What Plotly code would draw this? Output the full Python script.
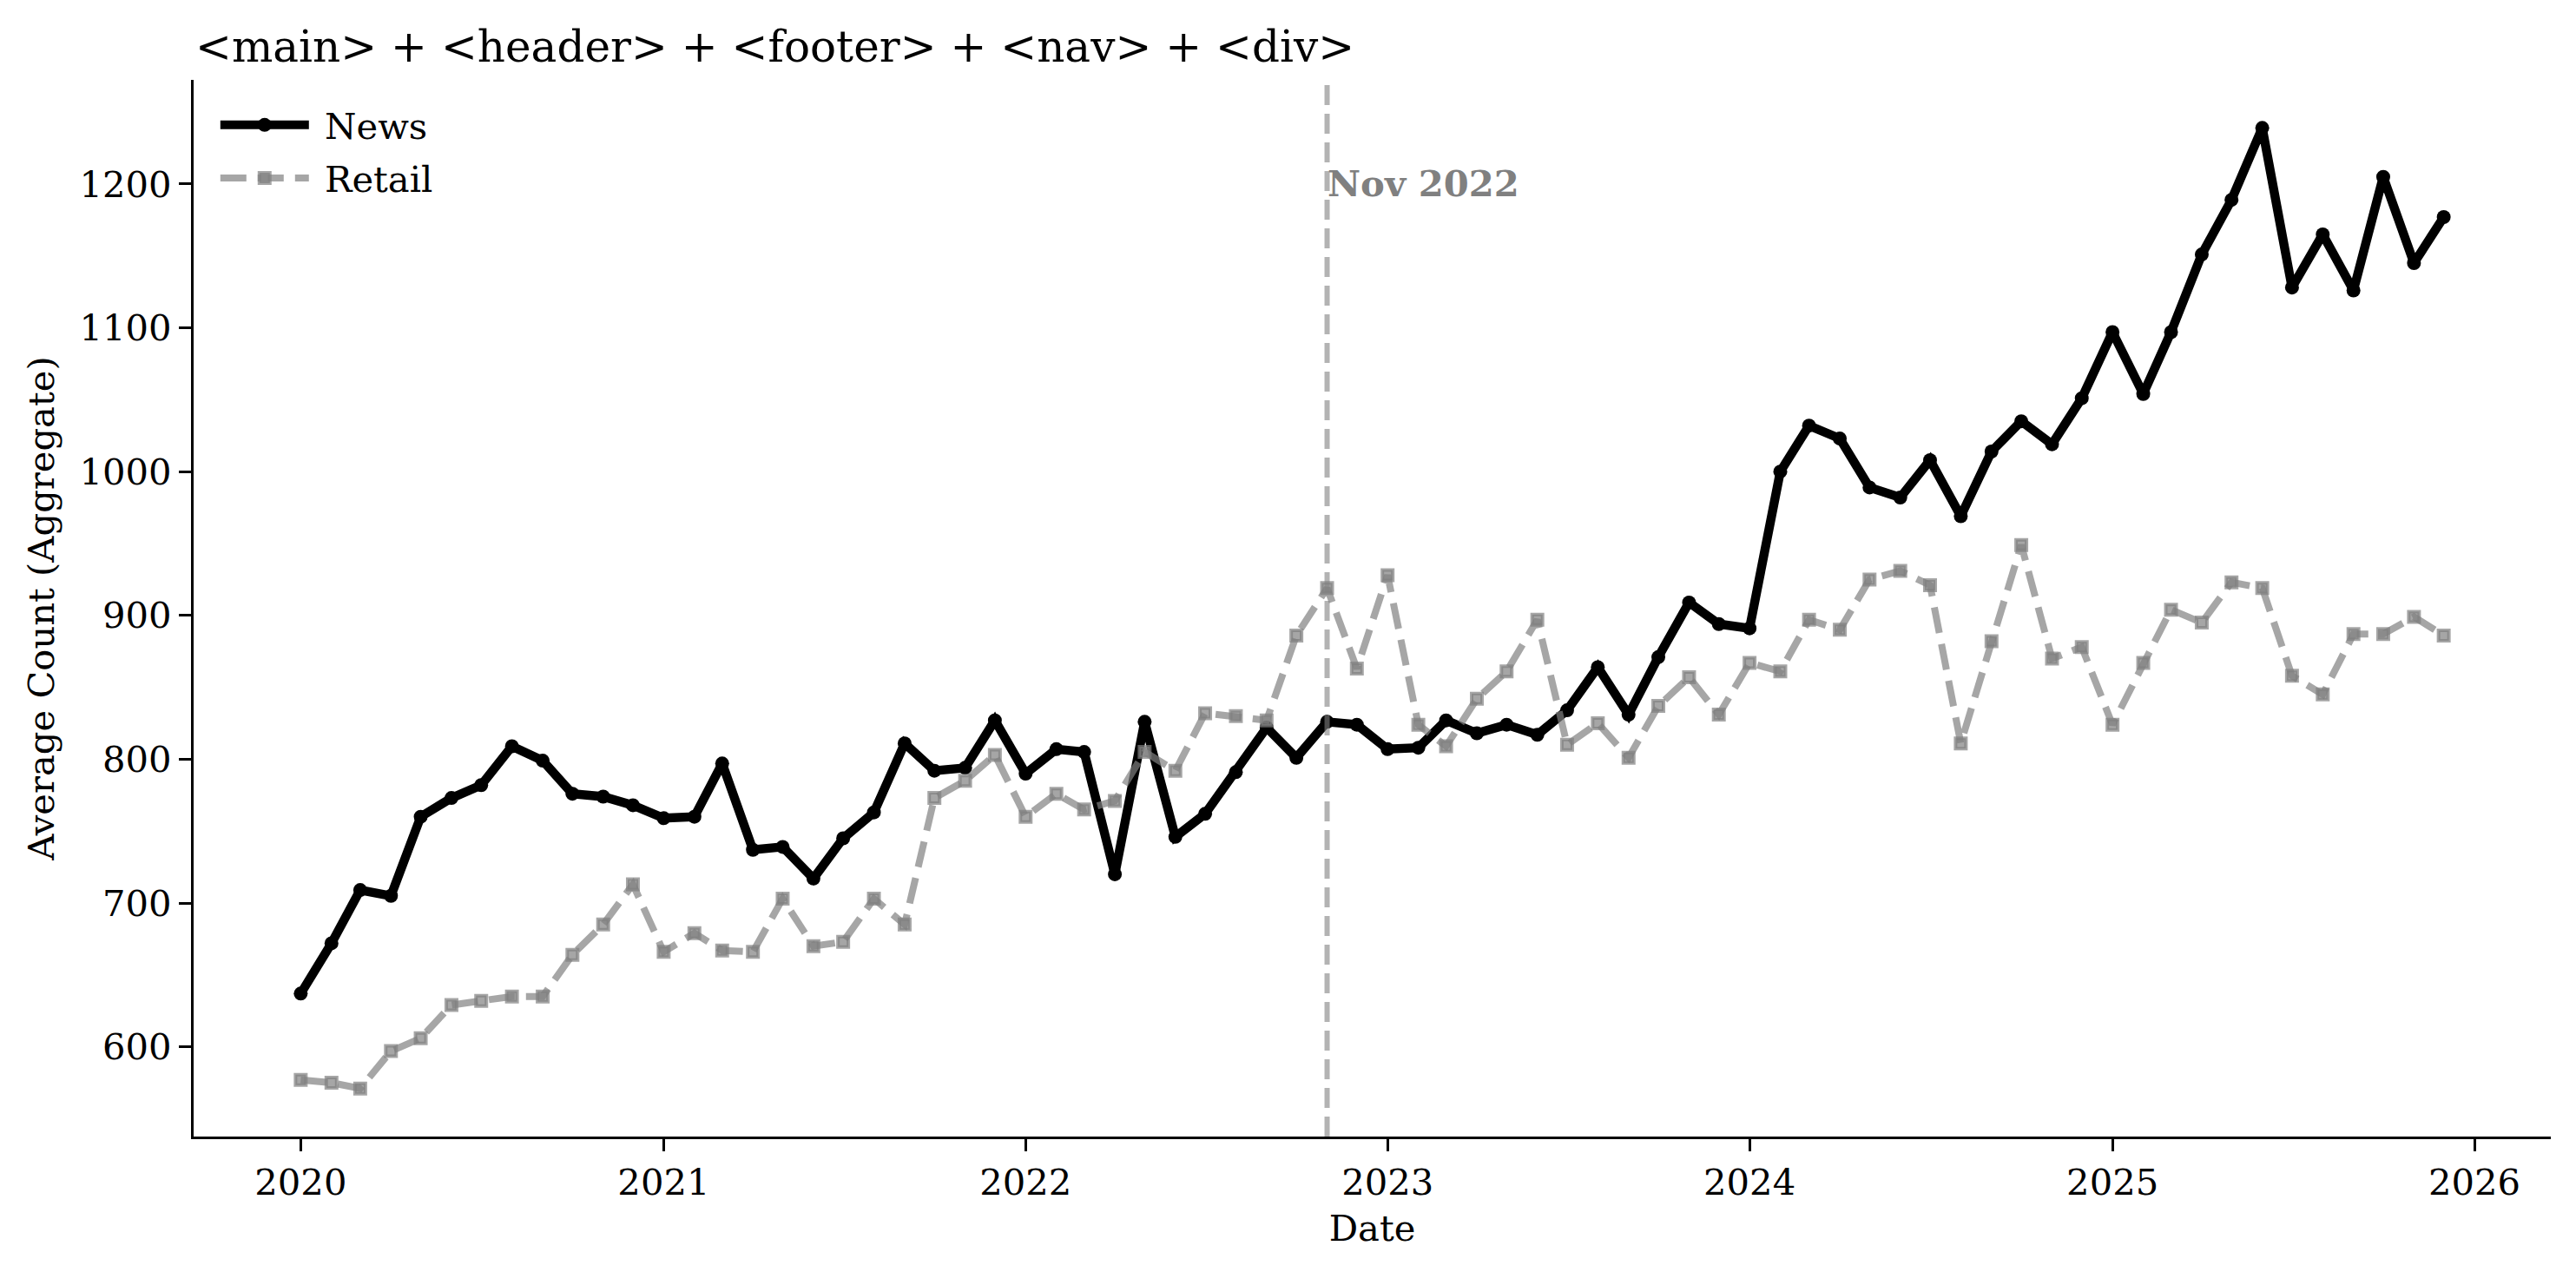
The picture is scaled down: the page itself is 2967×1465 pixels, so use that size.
import pandas as pd
import plotly.graph_objects as go

dates = pd.date_range("2020-01-01", "2025-12-01", freq="MS")

news = [637, 672, 709, 705, 760, 773, 782, 809, 799, 776, 774, 768,
        759, 760, 797, 737, 739, 717, 745, 763, 811, 792, 794, 827,
        790, 807, 805, 720, 826, 746, 762, 791, 822, 801, 826, 824,
        807, 808, 827, 818, 824, 817, 834, 864, 831, 871, 909, 894,
        891, 1000, 1032, 1023, 989, 982, 1008, 969, 1014, 1035, 1019, 1051,
        1097, 1054, 1097, 1151, 1189, 1239, 1128, 1165, 1126, 1205, 1145, 1177]

retail = [577, 575, 571, 597, 606, 629, 632, 635, 635, 664, 685, 713,
          666, 679, 667, 666, 703, 670, 673, 703, 685, 773, 785, 803,
          760, 776, 765, 771, 805, 792, 832, 830, 827, 886, 919, 863,
          928, 824, 809, 842, 861, 897, 810, 825, 801, 837, 857, 831,
          867, 861, 897, 890, 925, 931, 921, 811, 882, 949, 870, 878,
          824, 867, 904, 895, 923, 919, 858, 845, 887, 887, 899, 886]

series_names = ["News", "Retail"]
event_date = "2022-11-01"
event_label = "Nov 2022"
title_text = "<main> + <header> + <footer> + <nav> + <div>"

FONT = "DejaVu Serif"
FS = 41.7
GRAY_A = "rgba(128,128,128,0.7)"
PAD = "\u00a0"

fig = go.Figure()
fig.add_trace(go.Scatter(
    x=dates, y=news, name=PAD + series_names[0], mode="lines+markers",
    line=dict(color="black", width=10.4),
    marker=dict(symbol="circle", size=16, color="black"),
    legendgroup="a",
))
fig.add_trace(go.Scatter(
    x=dates, y=retail, name=PAD + series_names[1], mode="lines+markers",
    line=dict(color=GRAY_A, width=8, dash="30px,13px"),
    marker=dict(symbol="square", size=12, color=GRAY_A,
                line=dict(color=GRAY_A, width=4)),
    legendgroup="b",
))

fig.add_shape(type="line", xref="x", yref="paper", x0=event_date, x1=event_date,
              y0=0, y1=1, line=dict(color="rgba(128,128,128,0.6)", width=6, dash="23px,10px"))
fig.add_annotation(x=event_date, y=1200, xref="x", yref="y", text=f"<b>{event_label}</b>",
                   showarrow=False, xanchor="left", yanchor="middle", xshift=-2,
                   font=dict(family=FONT, size=FS, color="#808080"))

fig.update_layout(
    width=2967, height=1465,
    paper_bgcolor="white", plot_bgcolor="white",
    margin=dict(l=223, r=29, t=92, b=156),
    font=dict(family=FONT, size=FS, color="black"),
    title=dict(text=title_text, x=225 / 2967, xanchor="left", xref="container",
               y=1 - 53 / 1465, yanchor="middle", yref="container",
               font=dict(family=FONT, size=50, color="black")),
    legend=dict(x=0.0095, y=0.985, xanchor="left", yanchor="top",
                bgcolor="rgba(255,255,255,0)", font=dict(family=FONT, size=FS),
                itemwidth=102, tracegroupgap=4),
    showlegend=True,
)
fig.update_xaxes(
    range=["2019-09-15", "2026-03-19"], tickformat="%Y", dtick="M12", tick0="2020-01-01",
    showgrid=False, zeroline=False, showline=True, linecolor="black", linewidth=3.3,
    ticks="outside", ticklen=14, tickwidth=3.3, tickcolor="black",
    tickfont=dict(family=FONT, size=FS),
    title=dict(text="Date", font=dict(family=FONT, size=FS), standoff=15),
)
fig.update_yaxes(
    range=[537.6, 1272.4], tickvals=[600, 700, 800, 900, 1000, 1100, 1200],
    showgrid=False, zeroline=False, showline=True, linecolor="black", linewidth=3.3,
    ticks="outside", ticklen=14, tickwidth=3.3, tickcolor="black",
    tickfont=dict(family=FONT, size=FS),
    title=dict(text="Average Count (Aggregate)", font=dict(family=FONT, size=FS), standoff=16),
)

fig.write_html("out.html", config={"displayModeBar": False},
               post_script="document.body.style.margin='0';")
